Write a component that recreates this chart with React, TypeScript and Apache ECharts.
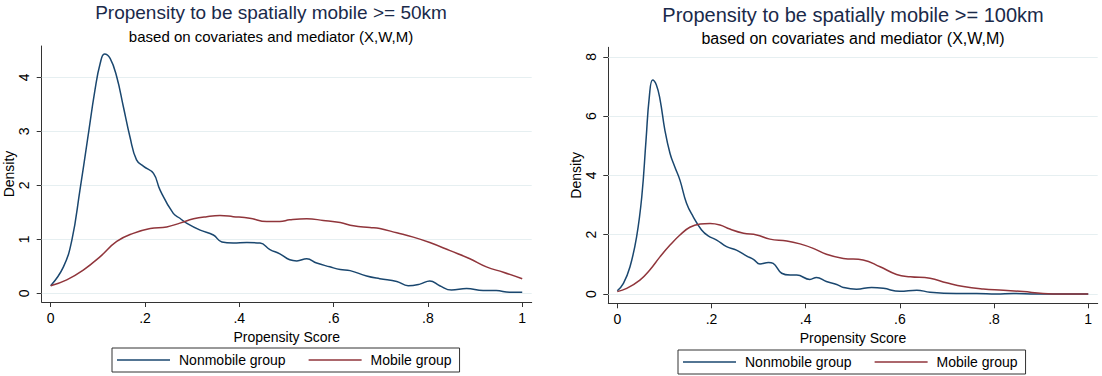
import React, { useEffect, useRef } from "react";
import * as echarts from "echarts";

// Left panel (>= 50km)
const leftNonmobileX = [0, 0.027, 0.045, 0.062, 0.078, 0.094, 0.105, 0.114, 0.126, 0.14, 0.154, 0.168, 0.182, 0.197, 0.218, 0.232, 0.26, 0.274, 0.288, 0.317, 0.345, 0.363, 0.387, 0.416, 0.444, 0.465, 0.486, 0.507, 0.522, 0.543, 0.564, 0.592, 0.614, 0.635, 0.67, 0.698, 0.734, 0.758, 0.783, 0.804, 0.825, 0.85, 0.882, 0.917, 0.945, 0.973, 1.0];
const leftNonmobileY = [0.14, 0.49, 0.99, 1.91, 2.84, 3.77, 4.26, 4.43, 4.35, 4.01, 3.46, 2.9, 2.47, 2.35, 2.22, 1.91, 1.48, 1.39, 1.3, 1.17, 1.08, 0.95, 0.93, 0.94, 0.93, 0.81, 0.73, 0.62, 0.6, 0.64, 0.56, 0.49, 0.44, 0.42, 0.32, 0.27, 0.22, 0.14, 0.17, 0.23, 0.14, 0.06, 0.09, 0.05, 0.05, 0.02, 0.02];
const leftMobileX = [0, 0.034, 0.069, 0.105, 0.14, 0.175, 0.211, 0.246, 0.274, 0.303, 0.331, 0.359, 0.387, 0.422, 0.458, 0.486, 0.507, 0.543, 0.578, 0.614, 0.642, 0.677, 0.698, 0.734, 0.769, 0.804, 0.847, 0.889, 0.924, 0.96, 1.0];
const leftMobileY = [0.14, 0.25, 0.43, 0.68, 0.96, 1.11, 1.2, 1.23, 1.3, 1.38, 1.42, 1.44, 1.42, 1.39, 1.33, 1.33, 1.36, 1.38, 1.35, 1.31, 1.25, 1.22, 1.2, 1.12, 1.04, 0.94, 0.79, 0.64, 0.49, 0.39, 0.27];

// Right panel (>= 100km)
const rightNonmobileX = [0, 0.013, 0.027, 0.041, 0.052, 0.061, 0.068, 0.075, 0.083, 0.091, 0.101, 0.112, 0.122, 0.133, 0.147, 0.161, 0.179, 0.193, 0.211, 0.232, 0.253, 0.275, 0.289, 0.303, 0.321, 0.331, 0.349, 0.367, 0.381, 0.409, 0.423, 0.444, 0.466, 0.48, 0.508, 0.54, 0.565, 0.6, 0.636, 0.664, 0.72, 0.763, 0.805, 0.841, 0.89, 1.0];
const rightNonmobileY = [0.11, 0.36, 0.92, 1.93, 3.28, 5.19, 6.65, 7.22, 7.05, 6.54, 5.53, 4.74, 4.29, 3.84, 3.06, 2.61, 2.16, 1.96, 1.82, 1.6, 1.48, 1.28, 1.17, 1.01, 1.06, 1.03, 0.7, 0.64, 0.64, 0.49, 0.56, 0.42, 0.32, 0.22, 0.16, 0.22, 0.19, 0.09, 0.13, 0.06, 0.02, 0.02, 0.0, 0.02, 0.0, 0.0];
const rightMobileX = [0, 0.02, 0.048, 0.069, 0.091, 0.112, 0.133, 0.154, 0.176, 0.197, 0.218, 0.239, 0.268, 0.296, 0.324, 0.36, 0.388, 0.416, 0.444, 0.48, 0.522, 0.558, 0.593, 0.622, 0.664, 0.699, 0.735, 0.777, 0.82, 0.862, 0.904, 0.947, 1.0];
const rightMobileY = [0.08, 0.19, 0.47, 0.81, 1.26, 1.65, 1.99, 2.25, 2.36, 2.38, 2.33, 2.19, 2.05, 1.99, 1.85, 1.79, 1.69, 1.54, 1.34, 1.2, 1.15, 0.92, 0.66, 0.58, 0.53, 0.38, 0.25, 0.17, 0.13, 0.08, 0.02, 0.0, 0.0];

const xTicks = [0, 0.2, 0.4, 0.6, 0.8, 1];
const leftYTicks = [0, 1, 2, 3, 4];
const rightYTicks = [0, 2, 4, 6, 8];

const titleLeft = "Propensity to be spatially mobile >= 50km";
const titleRight = "Propensity to be spatially mobile >= 100km";
const subtitle = "based on covariates and mediator (X,W,M)";
const seriesNames = ["Nonmobile group", "Mobile group"];

const NAVY = "#1a476f";
const MAROON = "#90353b";
const GRIDC = "#e6eff1";
const AXISC = "#333333";
const FONT = "'Liberation Sans', Arial, Helvetica, sans-serif";

const zip = (xs: number[], ys: number[]) => xs.map((x, i) => [x, ys[i]]);
const fmtX = (v: number) => (v === 0 ? "0" : v === 1 ? "1" : String(v).replace(/^0\./, "."));

export default function App() {
  const ref = useRef<HTMLDivElement>(null);
  useEffect(() => {
    document.body.style.margin = "0";
    if (!ref.current) return;
    const chart = echarts.init(ref.current, undefined, { renderer: "svg" });

    const xAxisBase = (gridIndex: number) => ({
      type: "value",
      gridIndex,
      min: -0.0191,
      max: 1.0201,
      name: "Propensity Score",
      nameLocation: "middle",
      nameGap: 24,
      nameTextStyle: { fontSize: 14, color: "#000", fontFamily: FONT },
      axisLine: { show: true, onZero: false, lineStyle: { color: AXISC, width: 1 } },
      axisTick: { show: true, length: 5, customValues: xTicks, lineStyle: { color: AXISC } },
      axisLabel: { customValues: xTicks, formatter: fmtX, fontSize: 14, color: "#000", margin: 9, fontFamily: FONT },
      splitLine: { show: false },
    });

    const yAxisBase = (gridIndex: number, min: number, max: number, ticks: number[], margin: number, nameGap: number) => ({
      type: "value",
      gridIndex,
      min,
      max,
      name: "Density",
      nameLocation: "middle",
      nameGap,
      nameRotate: 90,
      nameTextStyle: { fontSize: 14, color: "#000", fontFamily: FONT },
      axisLine: { show: true, onZero: false, lineStyle: { color: AXISC, width: 1 } },
      axisTick: { show: true, length: 5, customValues: ticks, lineStyle: { color: AXISC } },
      axisLabel: { customValues: ticks, rotate: 90, fontSize: 14, color: "#000", margin, fontFamily: FONT },
      splitLine: { show: false },
    });

    const gridMark = (ticks: number[]) => ({
      silent: true,
      symbol: "none",
      z: 1,
      label: { show: false },
      lineStyle: { color: GRIDC, type: "solid", width: 1 },
      data: ticks.map((v) => ({ yAxis: v })),
    });

    const lineSeries = (name: string, color: string, idx: number, data: number[][], marks?: number[]) => ({
      type: "line",
      name,
      xAxisIndex: idx,
      yAxisIndex: idx,
      data,
      symbol: "none",
      showSymbol: false,
      smooth: 0.45,
      z: 3,
      lineStyle: { color, width: 1.5 },
      itemStyle: { color },
      ...(marks ? { markLine: gridMark(marks) } : {}),
    });

    const legendBase = (left: number, top: number) => ({
      left,
      top,
      orient: "horizontal",
      data: seriesNames.map((n) => ({ name: n, icon: "rect" })),
      selectedMode: false,
      padding: [5, 8, 5, 5],
      borderColor: AXISC,
      borderWidth: 1,
      borderRadius: 0,
      itemWidth: 53,
      itemHeight: 1.5,
      itemGap: 23,
      textStyle: { fontSize: 14, color: "#000", fontFamily: FONT, padding: [0, 0, 0, 4], lineHeight: 14 },
    });

    chart.setOption({
      animation: false,
      backgroundColor: "#ffffff",
      textStyle: { fontFamily: FONT },
      title: [
        { text: titleLeft, left: 271, top: 3, textAlign: "center", padding: 0, textStyle: { fontSize: 19, fontWeight: "normal", color: "#1a2a4a", fontFamily: FONT } },
        { text: subtitle, left: 271, top: 29, textAlign: "center", padding: 0, textStyle: { fontSize: 15, fontWeight: "normal", color: "#000", fontFamily: FONT } },
        { text: titleRight, left: 853, top: 5, textAlign: "center", padding: 0, textStyle: { fontSize: 20, fontWeight: "normal", color: "#1a2a4a", fontFamily: FONT } },
        { text: subtitle, left: 853, top: 30, textAlign: "center", padding: 0, textStyle: { fontSize: 16, fontWeight: "normal", color: "#000", fontFamily: FONT } },
      ],
      legend: [legendBase(112, 348), legendBase(678, 350)],
      grid: [
        { left: 41.7, top: 46, width: 490, height: 256 },
        { left: 608.3, top: 47.3, width: 489.4, height: 256 },
      ],
      xAxis: [xAxisBase(0), xAxisBase(1)],
      yAxis: [
        yAxisBase(0, -0.161, 4.58, leftYTicks, 11, 24),
        yAxisBase(1, -0.314, 8.32, rightYTicks, 10, 23),
      ],
      series: [
        lineSeries(seriesNames[0], NAVY, 0, zip(leftNonmobileX, leftNonmobileY), leftYTicks),
        lineSeries(seriesNames[1], MAROON, 0, zip(leftMobileX, leftMobileY)),
        lineSeries(seriesNames[0], NAVY, 1, zip(rightNonmobileX, rightNonmobileY), rightYTicks),
        lineSeries(seriesNames[1], MAROON, 1, zip(rightMobileX, rightMobileY)),
      ],
    });
    return () => chart.dispose();
  }, []);
  return <div ref={ref} style={{ width: 1102, height: 376, background: "#fff" }} />;
}
